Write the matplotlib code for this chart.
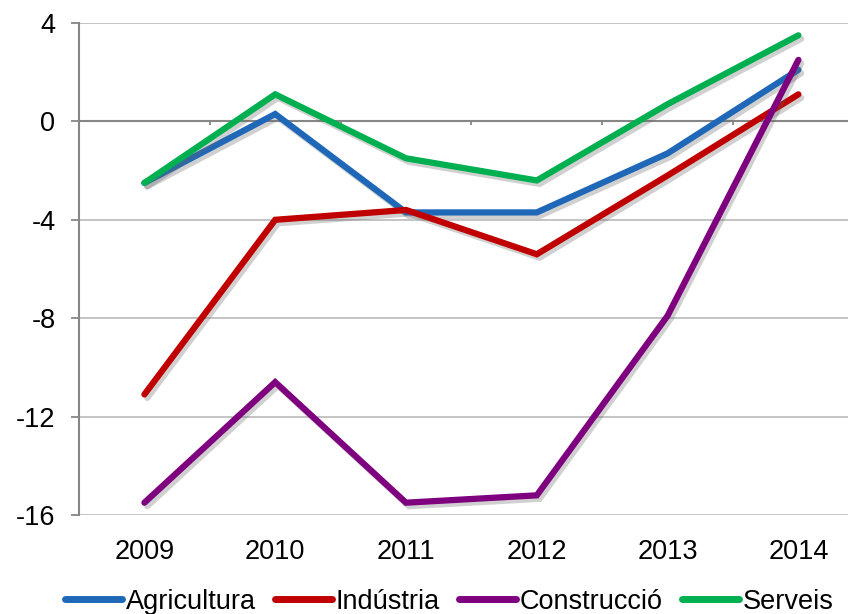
import numpy as np
import matplotlib
matplotlib.use('Agg')
from matplotlib import pyplot as plt
import matplotlib.patheffects as pe

plt.rcParams['font.family'] = ['Liberation Sans', 'DejaVu Sans']

# data
years = ['2009', '2010', '2011', '2012', '2013', '2014']
agricultura = [-2.5, 0.3, -3.7, -3.7, -1.3, 2.1]
industria = [-11.1, -4.0, -3.6, -5.4, -2.2, 1.1]
construccio = [-15.5, -10.6, -15.5, -15.2, -7.9, 2.5]
serveis = [-2.5, 1.1, -1.5, -2.4, 0.7, 3.5]

series = [
    ('Agricultura', agricultura, '#1F68B8'),
    ('Indústria', industria, '#C00000'),
    ('Construcció', construccio, '#7F007F'),
    ('Serveis', serveis, '#00B050'),
]

fig = plt.figure(figsize=(8.48, 6.14), dpi=100)
ax = fig.add_axes([79/848, 99/614, 6*130.8/848, 492/614])

x = np.arange(len(years))
ax.set_xlim(-0.5, len(years) - 0.5)
ax.set_ylim(-16, 4)

# grid
for yv in [4, -4, -8, -12, -16]:
    ax.axhline(yv, color='#BFBFBF', lw=1.3, zorder=1)
# category axis sits at 0
ax.axhline(0, color='#868686', lw=1.5, zorder=1)
ax.vlines(np.arange(len(years) + 1) - 0.5, -0.15, 0, color='#868686', lw=1.3, zorder=1)

shadow = [pe.SimpleLineShadow(offset=(2, -2.5), shadow_color='#666666', alpha=0.3),
          pe.Normal()]
for name, vals, col in series:
    ax.plot(x, vals, color=col, lw=4.5, label=name, solid_capstyle='round',
            solid_joinstyle='miter', zorder=3, path_effects=shadow)

ax.set_yticks([4, 0, -4, -8, -12, -16])
ax.set_yticklabels(['4', '0', '-4', '-8', '-12', '-16'])
ax.set_xticks(x)
ax.set_xticklabels(years)
ax.tick_params(axis='y', length=6, width=1.3, color='#868686', pad=11, labelsize=19.5)
ax.tick_params(axis='x', length=0, pad=17, labelsize=19.5)

for s in ['top', 'right', 'bottom']:
    ax.spines[s].set_visible(False)
ax.spines['left'].set_color('#868686')
ax.spines['left'].set_linewidth(1.5)

handles, labels = ax.get_legend_handles_labels()
leg = fig.legend(handles, labels, loc='center', bbox_to_anchor=(0.53, 0.02), ncol=4,
                 frameon=False, fontsize=19.5, handlelength=2.1, handletextpad=0.15,
                 columnspacing=0.7)
for h in leg.legend_handles:
    h.set_path_effects([])
    h.set_linewidth(5)

fig.savefig('out.png', dpi=100)
